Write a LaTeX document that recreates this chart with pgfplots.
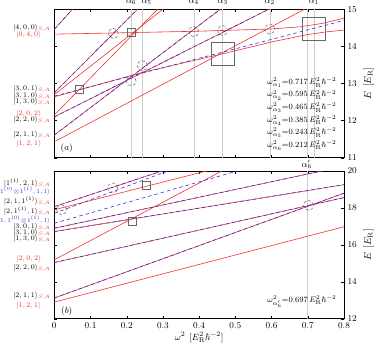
\documentclass[border=0pt]{standalone}
\usepackage{pgfplots}
\pgfplotsset{compat=1.18}
\usepackage{amsmath,amssymb}
\definecolor{lred}{RGB}{240,50,50}
\definecolor{lblue}{RGB}{45,45,225}

\pgfplotsset{
  rl/.style={lred, line width=0.6pt},
  bl/.style={lblue, line width=0.6pt, dash pattern=on 3.5pt off 3pt},
  guide/.style={gray!40, line width=0.4pt},
  circ/.style={only marks, mark=o, mark size=5pt, mark options={gray!80!black, densely dashed, line width=0.5pt}},
  sbox/.style={only marks, mark=square, mark size=4pt, mark options={gray!80!black, line width=0.5pt, rounded corners=1pt}},
  bbox/.style={only marks, mark=square, mark size=11.5pt, mark options={gray!80!black, line width=0.5pt, rounded corners=2pt}},
  panel/.style={
    scale only axis, width=289.7pt,
    xmin=0, xmax=0.8,
    xtick={0,0.1,0.2,0.3,0.4,0.5,0.6,0.7,0.8},
    tick align=inside, major tick length=3pt,
    tick style={black, line width=0.4pt},
    yticklabel pos=right,
    ticklabel style={font=\fontsize{8.8}{9}\selectfont},
    ylabel={$E\;\,[E_{\mathrm{R}}]$},
    ylabel style={rotate=180, font=\fontsize{10}{11}\selectfont},
    ylabel near ticks,
    axis line style={line width=0.5pt},
  },
}
% red line + blue dashed on top (degenerate S,A pair)
\newcommand{\SA}[1]{\addplot[rl] coordinates {#1};\addplot[bl] coordinates {#1};}
\newcommand{\ann}{\fontsize{7.9}{8}\selectfont}
\newcommand{\ket}{\fontsize{6.9}{7}\selectfont}

\begin{document}
\begin{tikzpicture}[x=1pt,y=1pt]
% ---------------- panel (a)
\begin{axis}[panel, at={(54.3pt,191.3pt)}, anchor=south west, height=148.4pt,
  ymin=11, ymax=15, ytick={11,12,13,14,15}, xticklabels={}]
\addplot[guide] coordinates {(0.717,11) (0.717,15)};
\addplot[guide] coordinates {(0.697,11) (0.697,15)};
\addplot[guide] coordinates {(0.595,11) (0.595,15)};
\addplot[guide] coordinates {(0.465,11) (0.465,15)};
\addplot[guide] coordinates {(0.385,11) (0.385,15)};
\addplot[guide] coordinates {(0.243,11) (0.243,15)};
\addplot[guide] coordinates {(0.212,11) (0.212,15)};
% levels
\SA{(0,14.46) (0.1,15.54)}
\addplot[rl] coordinates {(0,14.33) (0.2,14.37) (0.4,14.41) (0.6,14.47) (0.68,14.53) (0.74,14.62) (0.8,14.76)};
\addplot[rl] coordinates {(0,11.43) (0.8,15.566)};
\SA{(0,11.61) (0.8,17.53)}
\SA{(0,12.10) (0.8,16.02)}
\addplot[rl] coordinates {(0,12.15) (0.8,20.15)};
\SA{(0,12.75) (0.8,20.59)}
\addplot[rl] coordinates {(0,12.70) (0.8,18.84)};
\addplot[rl] coordinates {(0,12.64) (0.243,13.30) (0.465,13.80) (0.6,14.12) (0.7,14.32) (0.75,14.39) (0.8,14.44)};
\addplot[bl] coordinates {(0,12.66) (0.8,14.70)};
% crossings
\addplot[circ] coordinates {(0.163,14.35) (0.385,14.40) (0.465,14.43) (0.595,14.47) (0.212,13.07) (0.243,13.48)};
\addplot[sbox] coordinates {(0.068,12.84) (0.212,14.38)};
\addplot[bbox] coordinates {(0.717,14.47) (0.465,13.81)};
% labels
\node[font=\fontsize{9}{9}\selectfont] at (rel axis cs:0.043,0.062) {$(a)$};
\begin{scope}[every node/.style={anchor=east, font=\ann, inner sep=0.2pt}]
\node at (rel axis cs:0.975,0.505) {$\omega^2_{\alpha_1}{=}0.717\,E_{\mathrm{R}}^2\hbar^{-2}$};
\node at (rel axis cs:0.975,0.422) {$\omega^2_{\alpha_2}{=}0.595\,E_{\mathrm{R}}^2\hbar^{-2}$};
\node at (rel axis cs:0.975,0.337) {$\omega^2_{\alpha_3}{=}0.465\,E_{\mathrm{R}}^2\hbar^{-2}$};
\node at (rel axis cs:0.975,0.252) {$\omega^2_{\alpha_4}{=}0.385\,E_{\mathrm{R}}^2\hbar^{-2}$};
\node at (rel axis cs:0.975,0.168) {$\omega^2_{\alpha_5}{=}0.243\,E_{\mathrm{R}}^2\hbar^{-2}$};
\node at (rel axis cs:0.975,0.084) {$\omega^2_{\alpha_6}{=}0.212\,E_{\mathrm{R}}^2\hbar^{-2}$};
\end{scope}
\end{axis}
% alpha labels
\begin{scope}[font=\fontsize{8.8}{9}\selectfont]
\node[anchor=south] at (54.3+0.212*362, 340.5) {$\alpha_6$};
\node[anchor=south] at (54.3+0.255*362, 340.5) {$\alpha_5$};
\node[anchor=south] at (54.3+0.385*362, 340.5) {$\alpha_4$};
\node[anchor=south] at (54.3+0.465*362, 340.5) {$\alpha_3$};
\node[anchor=south] at (54.3+0.595*362, 340.5) {$\alpha_2$};
\node[anchor=south] at (54.3+0.717*362, 340.5) {$\alpha_1$};
\node at (54.3+0.697*362, 184.5) {$\alpha'_6$};
\end{scope}
% ---------------- panel (b)
\begin{axis}[panel, at={(54.3pt,30.3pt)}, anchor=south west, height=147.7pt,
  ymin=12, ymax=20, ytick={12,14,16,18,20},
  xlabel={$\omega^2\;\,[E_{\mathrm{R}}^2\hbar^{-2}]$},
  xlabel style={font=\fontsize{9.5}{10}\selectfont, yshift=3pt}]
\addplot[guide] coordinates {(0.697,12) (0.697,20)};
\addplot[rl] coordinates {(0,12.90) (0.8,16.98)};
\SA{(0,13.12) (0.8,18.80)}
\SA{(0,15.04) (0.8,18.56)}
\addplot[rl] coordinates {(0,15.19) (0.8,23.51)};
\SA{(0,16.72) (0.8,19.26)}
\SA{(0,16.90) (0.8,20.26)}
\SA{(0,18.07) (0.8,23.27)}
\addplot[rl] coordinates {(0,17.90) (0.8,21.90)};
\addplot[bl] coordinates {(0,17.71) (0.8,23.55)};
\addplot[bl] coordinates {(0,17.17) (0.8,21.65)};
\addplot[circ] coordinates {(0.02,17.9) (0.161,19.08) (0.702,18.14)};
\addplot[sbox] coordinates {(0.253,19.23) (0.214,17.28)};
\node[font=\fontsize{9}{9}\selectfont] at (rel axis cs:0.043,0.05) {$(b)$};
\node[anchor=east,font=\ann,inner sep=0.2pt] at (rel axis cs:0.975,0.115) {$\omega^2_{\alpha'_6}{=}0.697\,E_{\mathrm{R}}^2\hbar^{-2}$};
\end{axis}
% ---------------- state labels
\begin{scope}[font=\ket, every node/.style={inner sep=0.5pt}]
\node[anchor=east] at (51,349-27.7) {$|4,0,0\rangle_{\color{lred}S,A}$};
\node[anchor=east,text=lred] at (42,349-34.3) {$|0,4,0\rangle$};
\node[anchor=east] at (51,349-89.3) {$|3,0,1\rangle_{\color{lred}S,A}$};
\node[anchor=east] at (51,349-95.7) {$|3,1,0\rangle_{\color{lred}S,A}$};
\node[anchor=east] at (51,349-101.7) {$|1,3,0\rangle_{\color{lred}S,A}$};
\node[anchor=east,text=lred] at (42,349-113.3) {$|2,0,2\rangle$};
\node[anchor=east] at (51,349-120) {$|2,2,0\rangle_{\color{lred}S,A}$};
\node[anchor=east] at (51,349-135) {$|2,1,1\rangle_{\color{lred}S,A}$};
\node[anchor=east,text=lred] at (42,349-144) {$|1,2,1\rangle$};
%
\node[anchor=east] at (51,349-182.7) {$|1^{(1)},2,1\rangle_{\color{lred}S,A}$};
\node[anchor=east,text=lblue,font=\fontsize{6.3}{7}\selectfont] at (51,349-191) {$|1^{(0)}\!\otimes\!1^{(1)},1,1\rangle$};
\node[anchor=east] at (51,349-201) {$|2,1,1^{(1)}\rangle_{\color{lred}S,A}$};
\node[anchor=east] at (51,349-211) {$|2,1^{(1)},1\rangle_{\color{lred}S,A}$};
\node[anchor=east,text=lblue,font=\fontsize{6.3}{7}\selectfont] at (51,349-220) {$|1,1^{(0)}\!\otimes\!1^{(1)},1\rangle$};
\node[anchor=east] at (51,349-226.7) {$|3,0,1\rangle_{\color{lred}S,A}$};
\node[anchor=east] at (51,349-232.7) {$|3,1,0\rangle_{\color{lred}S,A}$};
\node[anchor=east] at (51,349-239) {$|1,3,0\rangle_{\color{lred}S,A}$};
\node[anchor=east,text=lred] at (42,349-258.3) {$|2,0,2\rangle$};
\node[anchor=east] at (51,349-268.3) {$|2,2,0\rangle_{\color{lred}S,A}$};
\node[anchor=east] at (51,349-296) {$|2,1,1\rangle_{\color{lred}S,A}$};
\node[anchor=east,text=lred] at (42,349-306) {$|1,2,1\rangle$};
\end{scope}
\pgfresetboundingbox
\path (0,0) rectangle (374,349);
\end{tikzpicture}
\end{document}
